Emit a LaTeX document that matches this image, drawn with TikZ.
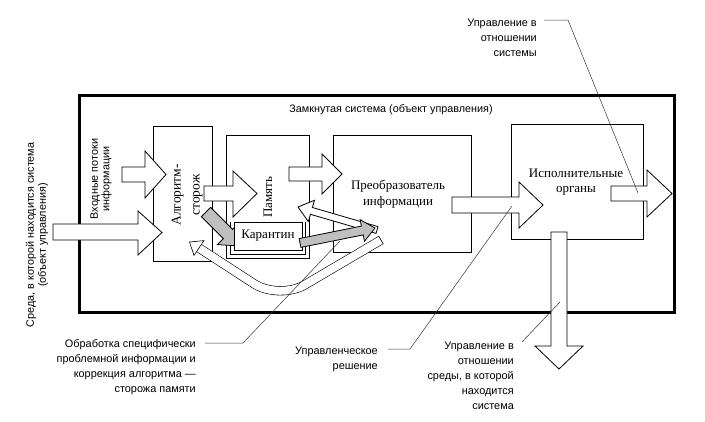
\documentclass[tikz,border=0pt]{standalone}
\usepackage{fontspec}
\setmainfont{Liberation Serif}
\setsansfont{Liberation Sans}
\begin{document}
\begin{tikzpicture}[x=1pt,y=-1pt,
  boxst/.style={draw, line width=1pt, inner sep=0pt, fill=white},
  barrow/.style={draw, line width=0.8pt, fill=white, line join=miter},
  garrow/.style={draw, line width=0.8pt, fill=black!25},
  lead/.style={draw=black!80, line width=0.5pt},
  lbl/.style={font=\sffamily\fontsize{10.9}{15}\selectfont, align=right, inner sep=0pt},
  sans/.style={font=\sffamily\fontsize{10.8}{11.5}\selectfont, align=center, inner sep=0pt},
  srf/.style={font=\fontsize{13}{15.5}\selectfont, align=center, inner sep=0pt},
]
\useasboundingbox (0,0) rectangle (705,421);

% outer system border
\node[draw, line width=3pt, minimum width=595pt, minimum height=217pt, inner sep=0pt] (sys) at (376.5,203.5) {};

% boxes
\node[boxst, minimum width=59pt, minimum height=135pt] (alg) at (182.5,193.5) {};
\node[boxst, minimum width=83pt, minimum height=123pt] (mem) at (267.5,196.5) {};
\node[boxst, minimum width=138pt, minimum height=117pt] (conv) at (402,193.5) {};
\node[boxst, minimum width=132pt, minimum height=115pt] (exec) at (577,181.5) {};
% inner outline of memory around quarantine
\draw[line width=1pt] (230,222) -- (230,254) -- (305,254) -- (305,222);

% white block arrows
\draw[barrow] (53,224) -- (138,224) -- (138,211) -- (162,232.5) -- (138,255) -- (138,240) -- (53,240) -- cycle;
\draw[barrow] (122,167) -- (145,167) -- (145,151) -- (166,174.5) -- (145,198) -- (145,182) -- (122,182) -- cycle;
\draw[barrow] (204,186) -- (233,186) -- (233,171) -- (257,193.5) -- (233,217) -- (233,201) -- (204,201) -- cycle;
\draw[barrow] (289,167) -- (322,167) -- (322,154) -- (342,174) -- (322,194) -- (322,181) -- (289,181) -- cycle;
\draw[barrow] (452,197) -- (519,197) -- (519,182) -- (543,205) -- (519,228) -- (519,213) -- (452,213) -- cycle;
\draw[barrow] (611,186) -- (647,186) -- (647,170) -- (672,193.5) -- (647,217) -- (647,201) -- (611,201) -- cycle;
\draw[barrow] (551,232) -- (551,346) -- (535,346) -- (559,369) -- (583,346) -- (567,346) -- (567,232) -- cycle;

% curved feedback tube
\draw[double=white, double distance=8pt, line width=0.6pt, rounded corners=30pt]
  (381,240) -- (279,300) -- (199,248);
\draw[line width=0.6pt] (383.3,244.0) -- (378.7,236.0);
\draw[barrow, line width=0.6pt] (204.0,240.6) -- (189.5,242.0) -- (194.0,255.4) -- cycle;

% white arrow back to memory
\draw[barrow] (378.0,226.6) -- (312.4,207.5) -- (314.5,200.3) -- (298,207) -- (308.3,221.5) -- (310.4,214.3) -- (376.0,233.4) -- cycle;

% gray arrow algorithm -> quarantine
\draw[garrow] (210.6,207.4) -- (232.6,229.4) -- (238.6,223.4) -- (240,246) -- (217.4,244.6) -- (223.4,238.6) -- (201.4,216.6) -- cycle;

% quarantine box
\node[boxst, minimum width=68pt, minimum height=28pt, srf] (kar) at (268,236) {Карантин};

% gray arrow quarantine -> converter
\draw[garrow] (299.1,238.6) -- (361.4,226.1) -- (360.1,219.7) -- (375,228) -- (364.5,241.3) -- (363.2,234.9) -- (300.9,247.4) -- cycle;

% box texts
\node[srf, rotate=90, font=\fontsize{13.5}{19}\selectfont] (algt) at (187,195) {Алгоритм-\\сторож};
\node[srf, rotate=90] (memt) at (268,197) {Память};
\node[srf] (convt) at (398,194) {Преобразователь\\информации};
\node[srf] (exect) at (576,182) {Исполнительные\\органы};

% other texts
\node[sans] (title) at (391,110) {Замкнутая система (объект управления)};
\node[sans, rotate=90, font=\sffamily\fontsize{10.8}{12}\selectfont] (env) at (37,235) {Среда, в которой находится система\\(объект управления)};
\node[sans, rotate=90] (inp) at (101,179) {Входные потоки\\информации};

\node[lbl, anchor=east] (l1) at (196,367.5) {Обработка специфически\\проблемной информации и\\коррекция алгоритма —\\сторожа памяти};
\node[lbl, anchor=east] (l2) at (378,359.5) {Управленческое\\решение};
\node[lbl, anchor=east] (l3) at (514,376) {Управление в\\отношении\\среды, в которой\\находится\\система};
\node[lbl, anchor=east] (l4) at (537,38) {Управление в\\отношении\\системы};

% leader lines
\coordinate (a1) at (205,343); \coordinate (b1) at (243,343); \coordinate (e1) at (340,241);
\coordinate (a2) at (388,349); \coordinate (b2) at (410,349); \coordinate (e2) at (512,206);
\coordinate (a3) at (522,342); \coordinate (e3) at (560,302);
\coordinate (a4) at (544,20); \coordinate (b4) at (568,20); \coordinate (e4) at (638,193);
\draw[lead] (a1) -- (b1) -- (e1);
\draw[lead] (a2) -- (b2) -- (e2);
\draw[lead] (a3) -- (e3);
\draw[lead] (a4) -- (b4) -- (e4);
\end{tikzpicture}
\end{document}
